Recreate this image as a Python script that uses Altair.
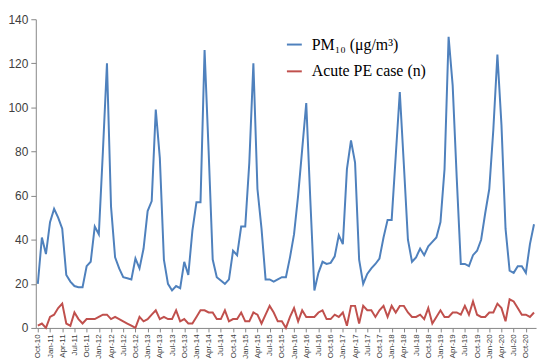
import altair as alt
import pandas as pd

MONTH_NAMES = ["Jan", "Feb", "Mar", "Apr", "May", "Jun",
               "Jul", "Aug", "Sep", "Oct", "Nov", "Dec"]

# Oct-2010 .. Dec-2020 (monthly categories)
months = []
for y in range(2010, 2021):
    for m in range(12):
        if y == 2010 and m < 9:
            continue
        months.append(f"{MONTH_NAMES[m]}-{str(y)[2:]}")

pm10 = [20, 41, 33.5, 48, 54, 50, 45, 24, 21, 19, 18.5, 18.5,
        28, 30, 46, 42.5, 80, 120, 55, 32, 27, 23, 22.5, 22,
        31.5, 27, 36, 53, 57.5, 99, 77, 31, 20, 17, 19, 18,
        30, 24, 44, 57, 57, 126, 80, 31, 23, 21.5, 20, 22,
        35, 33, 46, 46, 75, 120, 63, 45, 22, 22, 21, 22,
        23, 23, 32, 42.5, 60, 81, 102, 58, 17, 25, 30, 29,
        29.5, 32.5, 42, 38, 72, 85, 75, 31, 20, 24.5, 27, 29,
        31.5, 41, 49, 49, 78, 107, 74, 40, 30, 32, 36, 33,
        37, 39, 41, 48, 72, 132, 110, 68, 29, 29, 28, 33,
        35, 40, 52, 63, 90, 124, 92, 45, 26, 25, 28, 28,
        25, 38, 47]

pe_cases = [1, 2, 0, 5, 6, 9, 11, 2, 1, 7, 4, 2,
            4, 4, 4, 5, 6, 6, 4, 5, 4, 3, 2, 1,
            0, 5, 3, 4, 6, 8, 4, 5, 4, 4, 8, 3,
            4, 2, 2, 5, 8, 8, 7, 7, 4, 4, 8, 3,
            4, 4, 7, 3, 3, 7, 6, 2, 6, 10, 7, 3,
            3, 0, 5, 9, 3, 8, 5, 5, 5, 7, 8, 4,
            4, 6, 5, 7, 1, 10, 10, 2, 10, 8, 8, 5,
            8, 10, 5, 10, 7, 10, 10, 7, 5, 5, 6, 4,
            9, 2, 5, 8, 5, 5, 7, 7, 6, 10, 6, 12,
            6, 5, 5, 7, 7, 11, 9, 3, 13, 12, 9, 6,
            6, 5, 7]

series_names = ["PM\u2081\u2080 (\u03bcg/m\u00b3)", "Acute PE case (n)"]
series_colors = ["#4F81BD", "#C0504D"]

df = pd.concat([
    pd.DataFrame({"month": months, "value": pm10, "series": series_names[0]}),
    pd.DataFrame({"month": months, "value": pe_cases, "series": series_names[1]}),
])

tick_months = months[::3]

chart = alt.Chart(df).mark_line(strokeWidth=2).encode(
    x=alt.X("month:O", sort=months,
            axis=alt.Axis(title=None, values=tick_months, labelAngle=270,
                          labelFont="Liberation Sans", labelFontSize=8,
                          labelColor="#404040", domainColor="#868686",
                          tickColor="#868686", tickSize=4, labelPadding=2)),
    y=alt.Y("value:Q", scale=alt.Scale(domain=[0, 140], nice=False),
            axis=alt.Axis(title=None, values=[0, 20, 40, 60, 80, 100, 120, 140],
                          grid=False, labelFont="Liberation Sans", labelFontSize=12,
                          labelColor="#404040", domainColor="#868686",
                          tickColor="#868686", tickSize=5, labelPadding=3)),
    color=alt.Color("series:N",
                    scale=alt.Scale(domain=series_names, range=series_colors),
                    legend=alt.Legend(title=None, orient="none", legendX=252, legendY=17,
                                      symbolType="stroke", symbolStrokeWidth=2,
                                      symbolSize=225, labelFont="Liberation Serif",
                                      labelFontSize=16, labelColor="#000000",
                                      labelOffset=9, rowPadding=10)),
    order=alt.Order("series:N"),
).properties(
    width=504, height=311,
    autosize=alt.AutoSizeParams(type="none"),
    padding={"left": 28, "top": 10, "right": 6, "bottom": 33},
).configure_view(stroke=None).configure_scale(pointPadding=0.5)

chart.save("out.html", embed_options={"renderer": "svg", "actions": False})
